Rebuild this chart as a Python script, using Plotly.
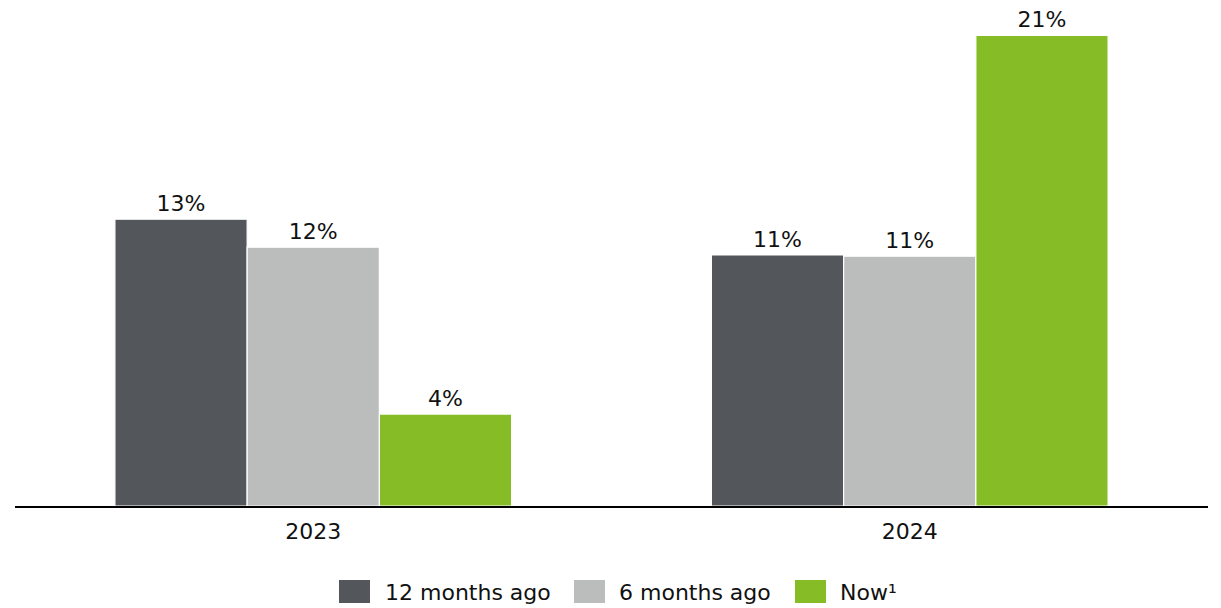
import plotly.graph_objects as go

# ---- data ----
years = ["2023", "2024"]
series_names = ["12 months ago", "6 months ago", "Now"]
legend_labels = ["12 months ago", "6 months ago", "Now¹"]
twelve_months_ago = [12.8, 11.2]
six_months_ago = [11.55, 11.15]
now = [4.1, 21.0]
colors = ["#53565A", "#BBBCBC", "#86BC25"]

FONT = "DejaVu Sans"
TXT = "#111111"

W, H = 1221, 608
ML, MR, MT, MB = 15, 13, 20, 102
PW = W - ML - MR
PH = H - MT - MB

fig = go.Figure()
for name, vals, col in zip(series_names, [twelve_months_ago, six_months_ago, now], colors):
    fig.add_trace(go.Bar(
        x=years, y=vals, name=name,
        marker=dict(color=col, line=dict(color="white", width=1.2)),
        texttemplate="%{y:.0f}%", textposition="outside",
        textfont=dict(family=FONT, size=22, color=TXT),
        cliponaxis=False, showlegend=False,
    ))

# manual legend (large square swatches)
def px_x(X):
    return (X - ML) / PW

def px_y(Y):
    return (H - MB - Y) / PH

sw_left = [339, 574, 795]
sw_w = 31
txt_left = [383, 617, 838]
for x0, tx, col, lab in zip(sw_left, txt_left, colors, legend_labels):
    fig.add_shape(type="rect", xref="paper", yref="paper",
                  x0=px_x(x0), x1=px_x(x0 + sw_w), y0=px_y(603), y1=px_y(580),
                  fillcolor=col, line=dict(width=0))
    fig.add_annotation(xref="paper", yref="paper", x=px_x(tx), y=px_y(592),
                       xanchor="left", yanchor="middle", showarrow=False,
                       text=lab, font=dict(family=FONT, size=22, color=TXT))

fig.update_layout(
    width=W, height=H,
    margin=dict(l=ML, r=MR, t=MT, b=MB),
    paper_bgcolor="white", plot_bgcolor="white",
    barmode="group", bargap=0.335, bargroupgap=0,
    font=dict(family=FONT, size=22, color=TXT),
    showlegend=False,
)
fig.update_xaxes(showline=True, linecolor="black", linewidth=2, ticks="",
                 showgrid=False, tickfont=dict(family=FONT, size=22, color=TXT),
                 ticklabelstandoff=5)
fig.update_yaxes(visible=False, range=[0, PH / 22.41], showgrid=False, zeroline=False)

fig.write_html("out.html")
